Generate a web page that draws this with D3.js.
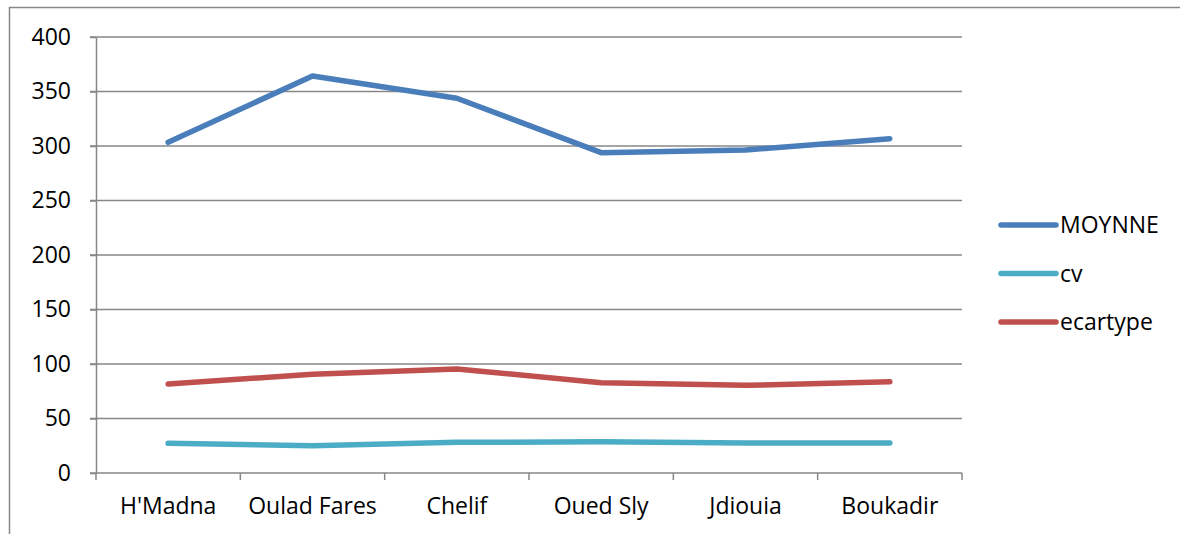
<!DOCTYPE html>
<html>
<head>
<meta charset="utf-8">
<script src="https://cdn.jsdelivr.net/npm/d3@7"></script>
<style>
  html, body { margin: 0; padding: 0; background: #fff; }
  svg { display: block; }
  text { font-family: "Open Sans", Lato, sans-serif; fill: #000; }
</style>
</head>
<body>
<svg id="chart" width="1180" height="534"></svg>
<script>
// Stations along the Chelif valley
const categories = ["H'Madna", "Oulad Fares", "Chelif", "Oued Sly", "Jdiouia", "Boukadir"];

// Series values per station
const moynne   = [303.4, 364.2, 343.8, 293.9, 296.3, 306.7];
const cv       = [27.2, 25.1, 28.1, 28.7, 27.5, 27.5];
const ecartype = [81.7, 90.5, 95.4, 82.9, 80.4, 83.8];

const seriesNames  = ["MOYNNE", "cv", "ecartype"];
const seriesColors = ["#4a7ebb", "#4bacc6", "#c0504d"];
const yTicks = [0, 50, 100, 150, 200, 250, 300, 350, 400];

const series = [moynne, cv, ecartype].map((values, i) => ({
  name: seriesNames[i], color: seriesColors[i], values
}));

const svg = d3.select("#chart");
const grid = "#878787";
const font = "'Open Sans', Lato, sans-serif";
const fontSize = 23;

// Outer chart frame
svg.append("rect")
  .attr("x", 9.5).attr("y", 7.5)
  .attr("width", 1200).attr("height", 600)
  .attr("fill", "none").attr("stroke", grid).attr("stroke-width", 1.5);

const plot = { left: 96, right: 962, top: 37, bottom: 473 };

const x = d3.scaleBand().domain(categories).range([plot.left, plot.right]).padding(0);
const y = d3.scaleLinear().domain([0, 400]).range([plot.bottom, plot.top]);

// Horizontal gridlines
svg.append("g")
  .selectAll("line")
  .data(yTicks.filter(t => t > 0))
  .join("line")
  .attr("x1", plot.left - 6).attr("x2", plot.right)
  .attr("y1", d => y(d)).attr("y2", d => y(d))
  .attr("stroke", grid).attr("stroke-width", 1.5);

// Y axis
const yAxis = svg.append("g")
  .attr("transform", `translate(${plot.left},0)`)
  .call(d3.axisLeft(y).tickValues(yTicks).tickSize(6).tickPadding(19).tickSizeOuter(0));
yAxis.select(".domain").attr("stroke", grid).attr("stroke-width", 1.5);
yAxis.selectAll(".tick line").attr("stroke", grid).attr("stroke-width", 1.5);
yAxis.selectAll(".tick text")
  .attr("font-family", font).attr("font-size", fontSize).attr("fill", "#000");

// X axis with tick marks at category boundaries
const xAxis = svg.append("g")
  .attr("transform", `translate(0,${plot.bottom})`)
  .call(d3.axisBottom(x).tickSize(0).tickPadding(25).tickSizeOuter(0));
xAxis.select(".domain").attr("stroke", grid).attr("stroke-width", 1.5)
  .attr("d", `M${plot.left - 6},0H${plot.right}`);
xAxis.selectAll(".tick text")
  .attr("font-family", font).attr("font-size", fontSize).attr("fill", "#000");

const bounds = categories.map(c => x(c)).concat([x(categories[categories.length - 1]) + x.bandwidth()]);
svg.append("g")
  .selectAll("line")
  .data(bounds)
  .join("line")
  .attr("x1", d => d).attr("x2", d => d)
  .attr("y1", plot.bottom).attr("y2", plot.bottom + 7)
  .attr("stroke", grid).attr("stroke-width", 1.5);

// Series lines
const line = d3.line()
  .x((d, i) => x(categories[i]) + x.bandwidth() / 2)
  .y(d => y(d));

svg.append("g")
  .selectAll("path")
  .data(series)
  .join("path")
  .attr("d", d => line(d.values))
  .attr("fill", "none")
  .attr("stroke", d => d.color)
  .attr("stroke-width", 5.5)
  .attr("stroke-linecap", "round")
  .attr("stroke-linejoin", "round");

// Legend
const legend = svg.append("g")
  .selectAll("g")
  .data(series)
  .join("g")
  .attr("transform", (d, i) => `translate(1001,${225 + i * 48.5})`);
legend.append("line")
  .attr("x1", 0).attr("x2", 55)
  .attr("stroke", d => d.color).attr("stroke-width", 5.5)
  .attr("stroke-linecap", "round");
legend.append("text")
  .attr("x", 59).attr("dy", "0.35em")
  .attr("font-family", font)
  .attr("font-size", fontSize)
  .text(d => d.name);
</script>
</body>
</html>
